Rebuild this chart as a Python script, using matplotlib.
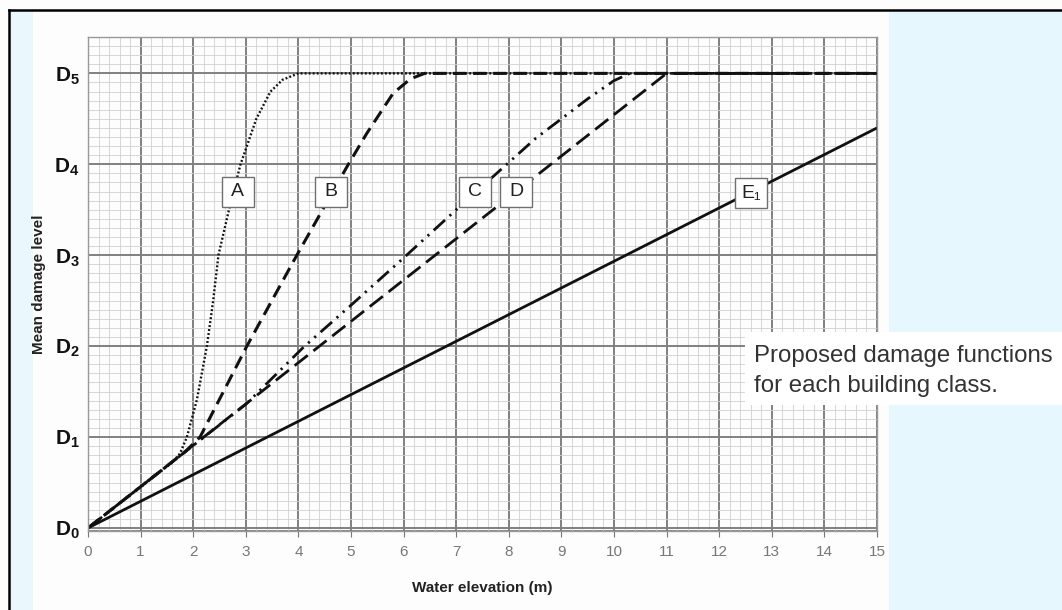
import matplotlib.pyplot as plt
from matplotlib.patches import Rectangle
from matplotlib.ticker import MultipleLocator

plt.rcParams['font.family'] = ['Liberation Sans', 'DejaVu Sans']
plt.rcParams['mathtext.fontset'] = 'custom'
plt.rcParams['mathtext.rm'] = 'Liberation Sans'
plt.rcParams['mathtext.bf'] = 'Liberation Sans:bold'

# damage curves (x = water elevation in m, y = damage level D)
a_x = [0, 1.6, 1.75, 1.88, 2.07, 2.26, 2.38, 2.48, 2.7, 2.9, 3.2, 3.47, 3.7, 4.0, 15]
a_y = [0, 0.72, 0.82, 1.0, 1.41, 2.0, 2.5, 3.0, 3.55, 4.0, 4.5, 4.8, 4.93, 5.0, 5.0]
b_x = [0, 1.85, 2.13, 3.02, 3.97, 4.93, 5.3, 5.8, 6.13, 6.4, 15]
b_y = [0, 0.84, 1.0, 2.0, 3.0, 3.98, 4.34, 4.78, 4.94, 5.0, 5.0]
c_x = [0, 3.0, 4.1, 5.0, 6.0, 7.0, 8.0, 8.5, 9.0, 9.5, 10.0, 10.3, 15]
c_y = [0, 1.36, 1.99, 2.45, 2.97, 3.5, 4.02, 4.28, 4.5, 4.72, 4.92, 5.0, 5.0]
d_x = [0, 11, 15]
d_y = [0, 5, 5]
e_x = [0, 15]
e_y = [0, 4.4]

curve_labels = ['A', 'B', 'C', 'D', 'E\u2081']
label_x = [2.85, 4.62, 7.35, 8.14, 12.6]
label_y = [3.70, 3.70, 3.70, 3.70, 3.68]

x_ticks = list(range(0, 16))
y_ticks = [0, 1, 2, 3, 4, 5]
y_ticklabels = [r'$\mathbf{D_%d}$' % i for i in y_ticks]

W, H = 1062, 610
fig = plt.figure(figsize=(10.62, 6.10), dpi=100)
fig.patch.set_facecolor('#fdfdfd')

def fx(px):
    return px / W

def fy(py):
    return 1 - py / H

# page decoration: blue margins and black frame
fig.add_artist(Rectangle((fx(10), 0), fx(23), fy(10), transform=fig.transFigure,
                         facecolor='#eaf8fd', edgecolor='none', zorder=-2))
fig.add_artist(Rectangle((fx(889), 0), fx(W - 889), fy(10), transform=fig.transFigure,
                         facecolor='#e6f7fd', edgecolor='none', zorder=-2))
fig.add_artist(plt.Line2D([fx(9), 1], [fy(9.5), fy(9.5)], transform=fig.transFigure,
                          color='black', lw=1.8))
fig.add_artist(plt.Line2D([fx(9), fx(9)], [0, fy(9.5)], transform=fig.transFigure,
                          color='black', lw=1.8))

ax = fig.add_axes([fx(88), fy(530.7), fx(877 - 88), (530.7 - 37) / H])
ax.set_facecolor('#fdfdfd')

ax.plot(e_x, e_y, color='#111111', lw=2.0, solid_capstyle='butt')
ax.plot(d_x, d_y, color='#111111', lw=2.0, linestyle=(0, (6, 2.6)))
ax.plot(c_x, c_y, color='#111111', lw=2.0, linestyle=(0, (5.5, 2.2, 0.8, 2.2, 0.8, 2.2)))
ax.plot(b_x, b_y, color='#111111', lw=2.2, linestyle=(0, (4.3, 2.3)))
ax.plot(a_x, a_y, color='#111111', lw=1.7, linestyle=(0, (0.8, 0.9)))

ax.set_xlim(0, 15)
ax.set_ylim(-0.03, 5.4)
ax.set_xticks(x_ticks)
ax.set_xticklabels([str(t) for t in x_ticks])
ax.set_yticks(y_ticks)
ax.set_yticklabels(y_ticklabels, fontsize=15)
ax.xaxis.set_minor_locator(MultipleLocator(0.2))
ax.yaxis.set_minor_locator(MultipleLocator(0.1))
ax.grid(which='major', color='#808080', lw=1.4)
ax.grid(which='minor', color='#d0d0d0', lw=0.6)
ax.set_axisbelow(True)
ax.axhline(-0.03, color='#808080', lw=1.3, zorder=0.5)

for s in ax.spines.values():
    s.set_color('#999999')
    s.set_linewidth(1.0)

ax.tick_params(axis='x', which='major', colors='#777777', labelsize=11, length=4, pad=6)
ax.tick_params(axis='x', which='minor', length=0)
ax.tick_params(axis='y', which='both', length=0, pad=6, labelcolor='#111111')

ax.set_xlabel('Water elevation (m)', fontsize=11, fontweight='bold', labelpad=16, color='#222222')
ax.set_ylabel('Mean damage level', fontsize=11, fontweight='bold', labelpad=6, color='#222222')

# boxed curve names
box_w, box_h = 0.61, 0.33
for lab, lx, ly in zip(curve_labels, label_x, label_y):
    ax.add_patch(Rectangle((lx - box_w / 2, ly - box_h / 2), box_w, box_h,
                           facecolor='white', edgecolor='#707070', lw=1.0, zorder=4))
    ax.text(lx, ly, lab, ha='center', va='center', fontsize=14, color='#222222', zorder=5)

# caption on white band
fig.add_artist(Rectangle((fx(745), fy(405)), 1 - fx(745), (405 - 332) / H,
                         transform=fig.transFigure, facecolor='white', edgecolor='none', zorder=5))
fig.text(fx(754), fy(371), 'Proposed damage functions\nfor each building class.',
         ha='left', va='center', fontsize=17.3, color='#333333', linespacing=1.42, zorder=6)

fig.savefig('out.png', dpi=100, facecolor=fig.get_facecolor())
